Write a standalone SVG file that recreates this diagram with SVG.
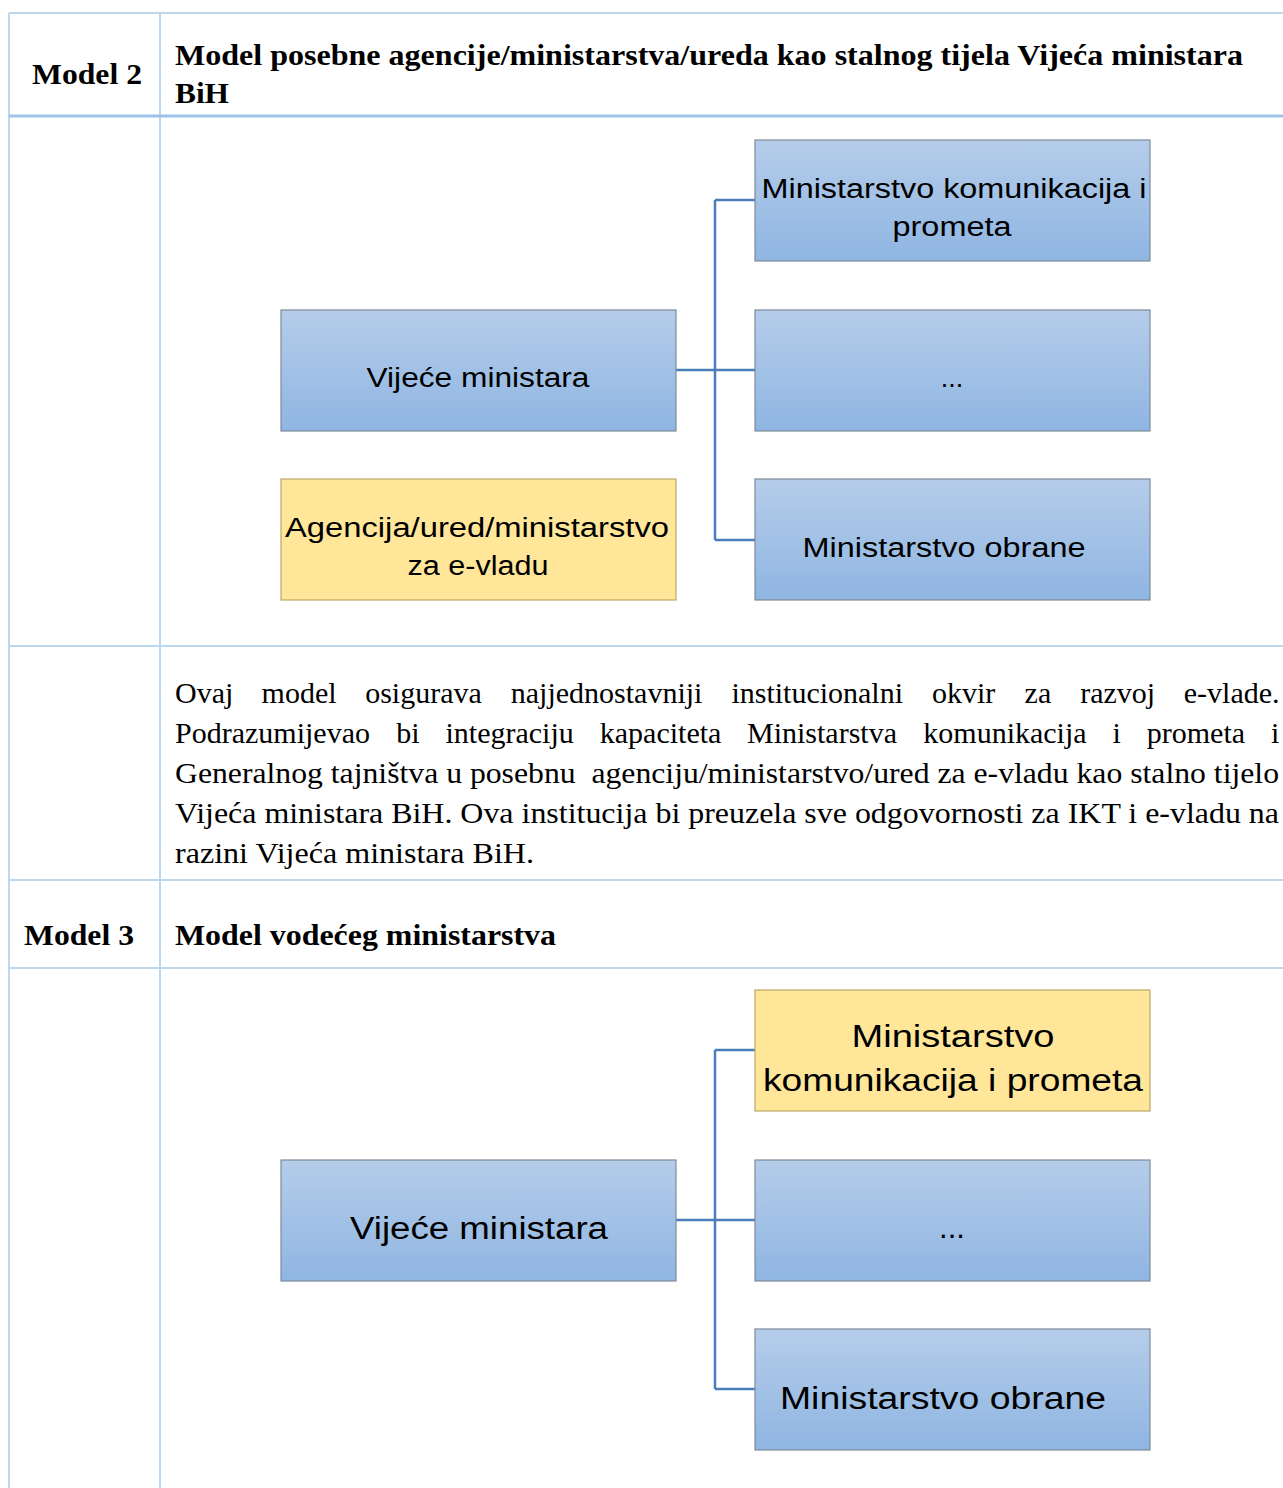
<svg xmlns="http://www.w3.org/2000/svg" width="1283" height="1488" viewBox="0 0 1283 1488">
<defs>
<linearGradient id="blue" x1="0" y1="0" x2="0" y2="1">
<stop offset="0" stop-color="#b5cdea"/>
<stop offset="1" stop-color="#8fb5e2"/>
</linearGradient>
<style>
.grid{stroke:#bdd7ee;stroke-width:2;fill:none}
.thick{stroke:#9dc3e6;stroke-width:3;fill:none}
.bbox{fill:url(#blue);stroke:#7d8a98;stroke-width:1.2}
.ybox{fill:#ffe699;stroke:#b9a868;stroke-width:1.2}
.conn{stroke:#4a7ebb;stroke-width:2.5;fill:none}
.bt{font-family:"Liberation Sans",Arial,sans-serif;fill:#000;text-anchor:middle}
.s2{font-size:27px}
.s3{font-size:31px}
.hd{font-family:"Liberation Serif","Times New Roman",serif;font-weight:bold;font-size:30px;fill:#000}
.pt{font-family:"Liberation Serif","Times New Roman",serif;font-size:30px;fill:#000}
</style>
</defs>
<rect x="0" y="0" width="1283" height="1488" fill="#fff"/>
<g id="table">
<line class="grid" x1="9" y1="13" x2="1283" y2="13"/>
<line class="grid" x1="9" y1="13" x2="9" y2="1488"/>
<line class="grid" x1="160" y1="13" x2="160" y2="1488"/>
<line class="thick" x1="9" y1="116" x2="1283" y2="116"/>
<line class="grid" x1="9" y1="646" x2="1283" y2="646"/>
<line class="grid" x1="9" y1="880" x2="1283" y2="880"/>
<line class="grid" x1="9" y1="968" x2="1283" y2="968"/>
</g>
<g id="headers">
<text class="hd" x="32" y="84" textLength="110" lengthAdjust="spacingAndGlyphs">Model 2</text>
<text class="hd" x="175" y="65" textLength="1068" lengthAdjust="spacingAndGlyphs">Model posebne agencije/ministarstva/ureda kao stalnog tijela Vijeća ministara</text>
<text class="hd" x="175" y="103" textLength="54" lengthAdjust="spacingAndGlyphs">BiH</text>
<text class="hd" x="24" y="945" textLength="110" lengthAdjust="spacingAndGlyphs">Model 3</text>
<text class="hd" x="175" y="945" textLength="381" lengthAdjust="spacingAndGlyphs">Model vodećeg ministarstva</text>
</g>
<g id="paragraph">
<text class="pt" y="703"><tspan x="175">Ovaj</tspan><tspan x="261.6">model</tspan><tspan x="365.2">osigurava</tspan><tspan x="510.8">najjednostavniji</tspan><tspan x="731.4">institucionalni</tspan><tspan x="932">okvir</tspan><tspan x="1024.6">za</tspan><tspan x="1080.2">razvoj</tspan><tspan x="1183.8">e-vlade.</tspan></text>
<text class="pt" y="743"><tspan x="175">Podrazumijevao</tspan><tspan x="396.3">bi</tspan><tspan x="445.5">integraciju</tspan><tspan x="599.8">kapaciteta</tspan><tspan x="747">Ministarstva</tspan><tspan x="923.3">komunikacija</tspan><tspan x="1112.5">i</tspan><tspan x="1146.8">prometa</tspan><tspan x="1271">i</tspan></text>
<text class="pt" x="175" y="783" textLength="1104" lengthAdjust="spacingAndGlyphs" xml:space="preserve">Generalnog tajništva u posebnu  agenciju/ministarstvo/ured za e-vladu kao stalno tijelo</text>
<text class="pt" x="175" y="823" textLength="1104" lengthAdjust="spacingAndGlyphs">Vijeća ministara BiH. Ova institucija bi preuzela sve odgovornosti za IKT i e-vladu na</text>
<text class="pt" x="175" y="863" textLength="359" lengthAdjust="spacingAndGlyphs">razini Vijeća ministara BiH.</text>
</g>
<g id="connectors">
<path class="conn" d="M676 370 H755 M715 200 V540 M715 200 H755 M715 540 H755"/>
<path class="conn" d="M676 1220 H755 M715 1050 V1389 M715 1050 H755 M715 1389 H755"/>
</g>
<g id="m2-mkp">
<rect class="bbox" x="755" y="140" width="395" height="121"/>
<text class="bt s2" x="954" y="198" textLength="385" lengthAdjust="spacingAndGlyphs">Ministarstvo komunikacija i</text>
<text class="bt s2" x="952" y="236" textLength="119" lengthAdjust="spacingAndGlyphs">prometa</text>
</g>
<g id="m2-vm">
<rect class="bbox" x="281" y="310" width="395" height="121"/>
<text class="bt s2" x="478" y="387" textLength="223" lengthAdjust="spacingAndGlyphs">Vijeće ministara</text>
</g>
<g id="m2-dots">
<rect class="bbox" x="755" y="310" width="395" height="121"/>
<text class="bt s2" x="952" y="387">...</text>
</g>
<g id="m2-agency">
<rect class="ybox" x="281" y="479" width="395" height="121"/>
<text class="bt s2" x="477" y="537" textLength="384" lengthAdjust="spacingAndGlyphs">Agencija/ured/ministarstvo</text>
<text class="bt s2" x="478" y="575" textLength="141" lengthAdjust="spacingAndGlyphs">za e-vladu</text>
</g>
<g id="m2-obrane">
<rect class="bbox" x="755" y="479" width="395" height="121"/>
<text class="bt s2" x="944" y="557" textLength="283" lengthAdjust="spacingAndGlyphs">Ministarstvo obrane</text>
</g>
<g id="m3-mkp">
<rect class="ybox" x="755" y="990" width="395" height="121"/>
<text class="bt s3" x="953" y="1047" textLength="203" lengthAdjust="spacingAndGlyphs">Ministarstvo</text>
<text class="bt s3" x="953" y="1091" textLength="380" lengthAdjust="spacingAndGlyphs">komunikacija i prometa</text>
</g>
<g id="m3-vm">
<rect class="bbox" x="281" y="1160" width="395" height="121"/>
<text class="bt s3" x="479" y="1239" textLength="258" lengthAdjust="spacingAndGlyphs">Vijeće ministara</text>
</g>
<g id="m3-dots">
<rect class="bbox" x="755" y="1160" width="395" height="121"/>
<text class="bt s3" x="952" y="1238">...</text>
</g>
<g id="m3-obrane">
<rect class="bbox" x="755" y="1329" width="395" height="121"/>
<text class="bt s3" x="943" y="1409" textLength="326" lengthAdjust="spacingAndGlyphs">Ministarstvo obrane</text>
</g>
</svg>
